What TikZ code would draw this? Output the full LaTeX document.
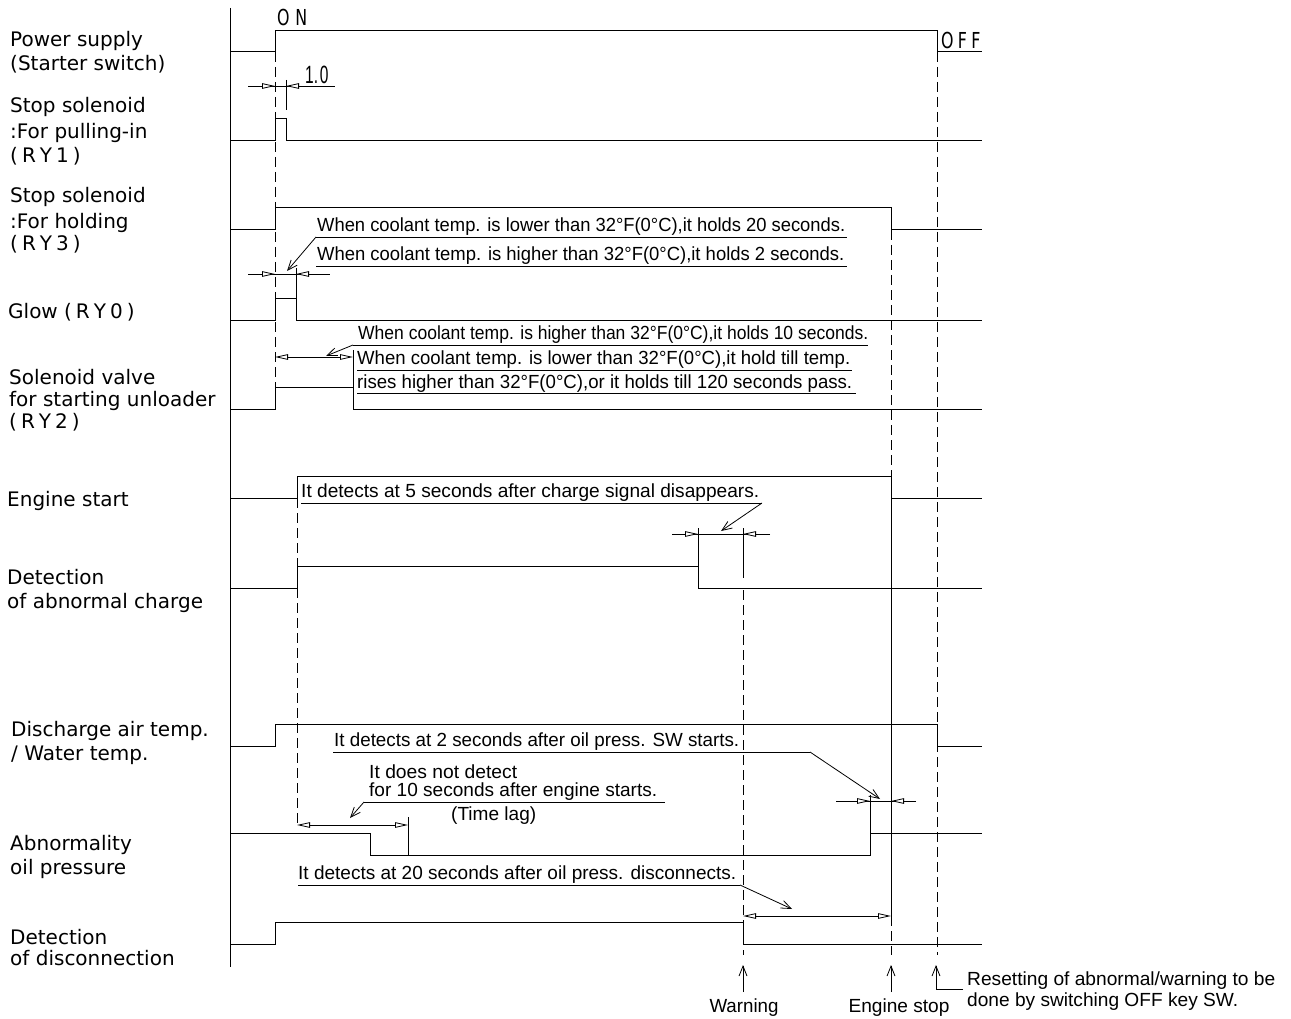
\documentclass[tikz,border=0pt]{standalone}
\usepackage{fontspec}
\usepackage{graphicx}
\setmainfont{Liberation Sans}
\newfontfamily\gothic{DejaVu Sans}
\usetikzlibrary{arrows.meta}

% relay name with spread letters
\newcommand{\ry}[1]{(\kern4pt R\kern4pt Y\kern4pt #1\kern4pt)}
% squeeze a note to a given width
\newcommand{\fitto}[2]{\resizebox{#1}{\height}{#2}}

\tikzset{
  sig/.style={line width=1pt},
  guide/.style={line width=0.9pt, dash pattern=on 10pt off 5pt},
  dim/.style={line width=0.8pt},
  dimtip/.style={-{Triangle[length=13pt, width=5.5pt, fill=white]}, line width=0.8pt},
  dimboth/.style={{Triangle[length=13pt, width=5.5pt, fill=white]}-{Triangle[length=13pt, width=5.5pt, fill=white]}, line width=0.8pt},
  lead/.style={-{Straight Barb[length=10pt, width=8pt]}, line width=0.8pt},
  signame/.style={anchor=base west, inner sep=0pt, font=\gothic\fontsize{20}{24}\selectfont},
  remark/.style={anchor=base west, inner sep=0pt, font=\fontsize{19}{22}\selectfont},
}

\begin{document}
\begin{tikzpicture}[x=1pt, y=-1pt]
\useasboundingbox (0,0) rectangle (1291,1019);

% left axis
\draw[sig] (230,8) -- (230,967);

% time marks
\draw[guide] (275,52) -- (275,387);
\draw[guide] (297,498) -- (297,825);
\draw[guide] (743,590) -- (743,955);
\draw[guide] (937,52) -- (937,955);
\draw[guide] (891,230) -- (891,476);
\draw[sig] (891,476) -- (891,916);
\draw[guide] (891,916) -- (891,955);

% signals
\draw[sig] (230,52) -- (275,52) -- (275,31) -- (937,31) -- (937,52) -- (982,52);
\draw[sig] (230,141) -- (275,141) -- (275,119) -- (286,119) -- (286,141) -- (982,141);
\draw[sig] (230,230) -- (275,230) -- (275,208) -- (891,208) -- (891,230) -- (982,230);
\draw[sig] (230,320) -- (275,320) -- (275,298) -- (296,298) -- (296,320) -- (982,320);
\draw[sig] (230,409) -- (275,409) -- (275,387) -- (353,387) -- (353,409) -- (982,409);
\draw[sig] (230,498) -- (297,498) -- (297,476) -- (891,476) -- (891,498) -- (982,498);
\draw[sig] (230,588) -- (297,588) -- (297,566) -- (698,566) -- (698,588) -- (982,588);
\draw[sig] (230,746) -- (275,746) -- (275,724) -- (937,724) -- (937,746) -- (982,746);
\draw[sig] (230,833) -- (370,833) -- (370,855) -- (870,855) -- (870,833) -- (982,833);
\draw[sig] (230,944) -- (275,944) -- (275,922) -- (743,922) -- (743,944) -- (982,944);

% signal names
\foreach \x/\y/\t [count=\i] in {
  10/47/Power supply,
  10/71/(Starter switch),
  10/113/Stop solenoid,
  10/139/:For pulling-in,
  10/163/\ry{1},
  10/203/Stop solenoid,
  10/229/:For holding,
  10/251/\ry{3},
  8/318/Glow \ry{0},
  9/384/Solenoid valve,
  9/406/for starting unloader,
  9/428/\ry{2},
  7/506/Engine start,
  7/584/Detection,
  7/608/of abnormal charge,
  11/736/Discharge air temp.,
  11/760/\slash\ Water temp.,
  10/850/Abnormality,
  10/874/oil pressure,
  10/944/Detection,
  10/965/of disconnection}
  \node[signame] (name\i) at (\x,\y) {\t};

\node[signame, font=\gothic\fontsize{22}{24}\selectfont] (on) at (277,26) {\scalebox{0.72}[1]{O\kern8pt N}};
\node[signame, font=\gothic\fontsize{22}{24}\selectfont] (off) at (941,49) {\scalebox{0.72}[1]{O\kern6pt F\kern6pt F}};

% 1.0 s pulse
\draw[dim] (248,86) -- (335,86);
\draw[dim] (286,80) -- (286,110);
\draw[dimtip] (248,86) -- (275,86);
\draw[dimtip] (312,86) -- (286,86);
\node[remark, font=\fontsize{25}{26}\selectfont] (one) at (305,84) {\scalebox{0.62}[1]{1.\kern3pt0}};

% holding time of RY3
\node[remark] (hold1) at (317,232) {\fitto{528pt}{When coolant temp. is lower than 32°F(0°C),it holds 20 seconds.}};
\node[remark] (hold2) at (317,261) {\fitto{527pt}{When coolant temp. is higher than 32°F(0°C),it holds 2 seconds.}};
\draw[dim] (316,237) -- (847,237);
\draw[dim] (316,266) -- (847,266);
\draw[dim] (248,274) -- (330,274);
\draw[dim] (296,268) -- (296,298);
\draw[dimtip] (248,274) -- (275,274);
\draw[dimtip] (322,274) -- (296,274);
\draw[lead] (316,237) -- (287,271);

% unloader time
\node[remark] (unl1) at (358,339) {\fitto{510pt}{When coolant temp. is higher than 32°F(0°C),it holds 10 seconds.}};
\node[remark] (unl2) at (357,364) {\fitto{493pt}{When coolant temp. is lower than 32°F(0°C),it hold till temp.}};
\node[remark] (unl3) at (357,388) {\fitto{495pt}{rises higher than 32°F(0°C),or it holds till 120 seconds pass.}};
\draw[dim] (353,345) -- (868,345);
\draw[dim] (357,370) -- (852,370);
\draw[dim] (357,393) -- (856,393);
\draw[dim] (353,350) -- (353,387);
\draw[dimboth] (275,357) -- (353,357);
\draw[lead] (353,345) -- (326,356);

% charge detection delay
\node[remark] (chg) at (301,497) {\fitto{458pt}{It detects at 5 seconds after charge signal disappears.}};
\draw[dim] (301,503) -- (762,503);
\draw[dim] (672,534) -- (770,534);
\draw[dim] (698,528) -- (698,566);
\draw[dim] (743,528) -- (743,578);
\draw[dimtip] (672,534) -- (698,534);
\draw[dimtip] (770,534) -- (743,534);
\draw[lead] (762,503) -- (721,531);

% oil pressure switch delay
\node[remark] (oil1) at (334,746) {\fitto{405pt}{It detects at 2 seconds after oil press. SW starts.}};
\draw[dim] (333,752) -- (810,752);
\draw[dim] (836,801) -- (916,801);
\draw[dim] (870,795) -- (870,833);
\draw[dimtip] (836,801) -- (870,801);
\draw[dimtip] (916,801) -- (891,801);
\draw[lead] (810,752) -- (880,799);

% time lag after start
\node[remark] (lag1) at (369,778) {\fitto{148pt}{It does not detect}};
\node[remark] (lag2) at (369,796) {\fitto{288pt}{for 10 seconds after engine starts.}};
\node[remark] (lag3) at (451,820) {\fitto{85pt}{(Time lag)}};
\draw[dim] (364,802) -- (665,802);
\draw[dim] (408,817) -- (408,855);
\draw[dimboth] (297,825) -- (408,825);
\draw[lead] (364,802) -- (350,818);

% disconnection delay
\node[remark] (dis) at (298,879) {\fitto{438pt}{It detects at 20 seconds after oil press. disconnects.}};
\draw[dim] (298,885) -- (740,885);
\draw[dimboth] (743,916) -- (891,916);
\draw[lead] (740,885) -- (792,909);

% events
\draw[lead] (743,992) -- (743,965);
\draw[lead] (891,992) -- (891,965);
\draw[lead] (963,989) -- (936,989) -- (936,965);
\node[remark, anchor=base] (warn) at (744,1012) {\fitto{69pt}{Warning}};
\node[remark, anchor=base] (stop) at (899,1012) {\fitto{101pt}{Engine stop}};
\node[remark] (reset1) at (967,985) {\fitto{308pt}{Resetting of abnormal/warning to be}};
\node[remark] (reset2) at (967,1006) {\fitto{271pt}{done by switching OFF key SW.}};
\end{tikzpicture}
\end{document}
